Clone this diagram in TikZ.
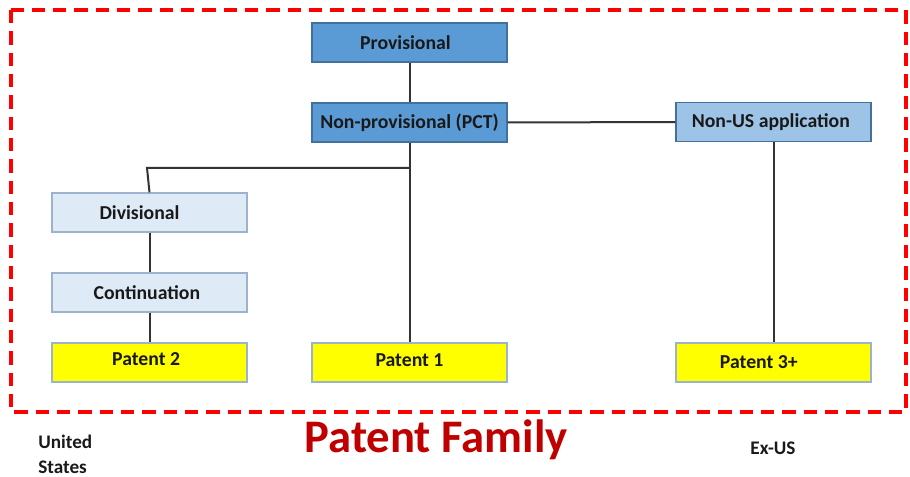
\documentclass[tikz,border=0pt]{standalone}
\usepackage{fontspec}
\setmainfont{Carlito}
\definecolor{provblue}{HTML}{5B9BD5}
\definecolor{provedge}{HTML}{41719C}
\definecolor{nonusblue}{HTML}{9DC3E6}
\definecolor{paleblue}{HTML}{DEEBF7}
\definecolor{paleedge}{HTML}{9DB3CB}
\definecolor{patyellow}{HTML}{FFFF00}
\definecolor{famred}{HTML}{C00000}
\begin{document}
\begin{tikzpicture}[x=0.75pt,y=-0.75pt,
  box/.style={draw, line width=0.9pt, minimum width=146.25pt, minimum height=29.25pt, inner sep=0pt, font=\bfseries\fontsize{14.8}{17}\selectfont, text=black!90},
  darkbox/.style={box, fill=provblue, draw=provedge},
  midbox/.style={box, fill=nonusblue, draw=provedge},
  lightbox/.style={box, fill=paleblue, draw=paleedge},
  patbox/.style={box, fill=patyellow, draw=paleedge},
  conn/.style={draw=black!80, line width=1.5pt},
  region/.style={font=\bfseries\fontsize{14.4}{18.5}\selectfont, align=left, text=black!90}
]
\useasboundingbox (0,0) rectangle (910,477);
\draw[red, line width=2.3pt, dash pattern=on 10pt off 6pt] (11,10) rectangle (906,412);

\node[darkbox] (prov) at (409.5,42.5) {\hspace*{-6pt}Provisional};
\node[darkbox] (pct) at (409.5,122.5) {Non-provisional (PCT)};
\node[midbox] (nonus) at (773.5,122) {\hspace*{-4pt}\raisebox{1.5pt}{Non-US application}};
\node[lightbox] (div) at (149.5,212.5) {\hspace*{-15pt}Divisional};
\node[lightbox] (cont) at (149.5,292.5) {\hspace*{-4pt}Continuation};
\node[patbox] (p2) at (149.5,362.5) {\hspace*{-5pt}\raisebox{5pt}{Patent 2}};
\node[patbox] (p1) at (409.5,362.5) {\raisebox{4pt}{Patent 1}};
\node[patbox] (p3) at (773.5,362.5) {\hspace*{-22pt}\raisebox{1pt}{Patent 3+}};

\coordinate (j1) at (409.5,168);
\coordinate (j2) at (147,168);

\draw[conn] (prov) -- (pct);
\draw[conn] (pct) -- (p1);
\draw[conn] (pct) -- (nonus);
\draw[conn] (nonus) -- (p3);
\draw[conn] (j1) -- (j2) -- (div.north);
\draw[conn] (div) -- (cont);
\draw[conn] (cont) -- (p2);

\node[region, anchor=west, inner sep=0pt] (us) at (38,454) {United\\States};
\node[region] (exus) at (773,448) {Ex-US};
\node[font=\bfseries\fontsize{35}{40}\selectfont, text=famred] (fam) at (436,440) {Patent Family};
\end{tikzpicture}
\end{document}
